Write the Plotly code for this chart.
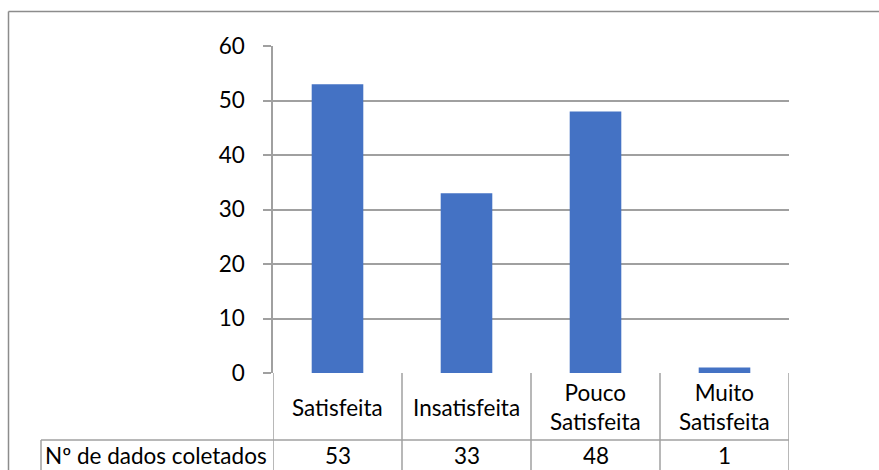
import plotly.graph_objects as go

categories = ["Satisfeita", "Insatisfeita", "Pouco Satisfeita", "Muito Satisfeita"]
category_labels = ["Satisfeita", "Insatisfeita", "Pouco<br>Satisfeita", "Muito<br>Satisfeita"]
values = [53, 33, 48, 1]
series_name = "Nº de dados coletados"
y_ticks = [0, 10, 20, 30, 40, 50, 60]

W, H = 879, 470
L, R, T, B = 273, 789, 46, 373  # plot area in px
FONT = "Lato, Liberation Sans, sans-serif"
FS = 22.5
LINE = "#a0a0a0"
BAR = "#4472C4"


def px(x):
    return (x - L) / (R - L)


def py(y):
    return (B - y) / (B - T)


fig = go.Figure()
fig.add_trace(go.Bar(x=categories, y=values, marker=dict(color=BAR, line=dict(width=0)),
                     name=series_name, hoverinfo="x+y"))

shapes = []
# outer chart border (left and top)
shapes.append(dict(type="line", xref="paper", yref="paper", x0=px(8.5), x1=px(W + 5),
                   y0=py(11.5), y1=py(11.5), line=dict(color="#8c8c8c", width=1.5)))
shapes.append(dict(type="line", xref="paper", yref="paper", x0=px(8.5), x1=px(8.5),
                   y0=py(11.5), y1=py(H + 5), line=dict(color="#8c8c8c", width=1.5)))
# table vertical lines at category boundaries
n = len(categories)
for i in range(n + 1):
    shapes.append(dict(type="line", xref="x", yref="paper", x0=i - 0.5, x1=i - 0.5,
                       y0=0, y1=py(H + 5), line=dict(color=LINE, width=1.5)))
# row separator and header cell
shapes.append(dict(type="line", xref="paper", yref="paper", x0=px(41), x1=1,
                   y0=py(440), y1=py(440), line=dict(color=LINE, width=1.5)))
shapes.append(dict(type="line", xref="paper", yref="paper", x0=px(41), x1=px(41),
                   y0=py(440), y1=py(H + 5), line=dict(color=LINE, width=1.5)))

annotations = []
for lab, cat in zip(category_labels, categories):
    annotations.append(dict(x=cat, xref="x", y=py(407), yref="paper", text=lab,
                            showarrow=False, xanchor="center", yanchor="middle",
                            font=dict(family=FONT, size=FS, color="#000")))
for v, cat in zip(values, categories):
    annotations.append(dict(x=cat, xref="x", y=py(456), yref="paper", text=str(v),
                            showarrow=False, xanchor="center", yanchor="middle",
                            font=dict(family=FONT, size=FS, color="#000")))
annotations.append(dict(x=px(43), xref="paper", y=py(456), yref="paper", text=series_name,
                        showarrow=False, xanchor="left", yanchor="middle",
                        font=dict(family=FONT, size=FS, color="#000")))

fig.update_layout(
    width=W, height=H, autosize=False,
    margin=dict(l=L, r=W - R, t=T, b=H - B, pad=0),
    paper_bgcolor="white", plot_bgcolor="white",
    showlegend=False, bargap=0.6,
    font=dict(family=FONT, size=FS, color="#000"),
    xaxis=dict(range=[-0.5, n - 0.5], showticklabels=False, showgrid=False,
               zeroline=False, showline=False, ticks=""),
    yaxis=dict(range=[0, 60], tickvals=y_ticks, showgrid=True, gridcolor=LINE, gridwidth=1.5,
               zeroline=False, showline=True, linecolor=LINE, linewidth=1.5,
               ticks="outside", ticklen=8, tickcolor=LINE, tickwidth=1.5,
               ticklabelstandoff=14, tickfont=dict(family=FONT, size=FS, color="#000")),
    shapes=shapes, annotations=annotations,
)

fig.write_html("out.html")
